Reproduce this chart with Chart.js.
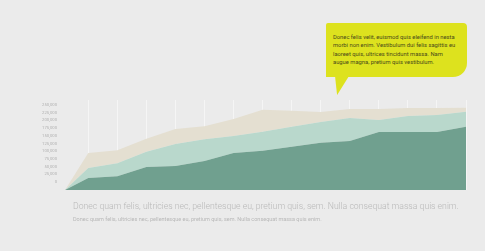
<!DOCTYPE html>
<html>
<head>
<meta charset="utf-8">
<script src="https://cdn.jsdelivr.net/npm/chart.js@4.4.1/dist/chart.umd.min.js"></script>
<style>
  html, body { margin: 0; padding: 0; background: #ebebeb; }
  #wrap { position: relative; width: 485px; height: 251px; overflow: hidden; font-family: Roboto, sans-serif; }
  #chart { position: absolute; left: 0; top: 0; }
  .bubble {
    position: absolute; left: 326px; top: 23px; width: 141px; height: 54px;
    background: #dde21e; border-radius: 2px 4px 14px 0;
    box-sizing: border-box; padding: 10px 0 0 7px;
    font-size: 5.8px; line-height: 8.3px; color: #4a4a1a; white-space: nowrap;
  }
  .tail {
    position: absolute; left: 335px; top: 76px; width: 14px; height: 19px;
    background: #dde21e; clip-path: polygon(0 0, 100% 0, 15% 100%);
  }
  .note1 { position: absolute; left: 73px; top: 201px; font-size: 8.7px; color: #b8b8b8; white-space: nowrap; font-weight: 300; }
  .note2 { position: absolute; left: 73px; top: 216px; font-size: 5.5px; color: #b8b8b8; white-space: nowrap; }
</style>
</head>
<body>
<div id="wrap">
  <canvas id="chart" width="485" height="251"></canvas>
  <div class="bubble">Donec felis velit, euismod quis eleifend in nesta<br>morbi non enim. Vestibulum dui felis sagittis eu<br>laoreet quis, ultrices tincidunt massa. Nam<br>augue magna, pretium quis vestibulum.</div>
  <div class="tail"></div>
  <div class="note1">Donec quam felis, ultricies nec, pellentesque eu, pretium quis, sem. Nulla consequat massa quis enim.</div>
  <div class="note2">Donec quam felis, ultricies nec, pellentesque eu, pretium quis, sem. Nulla consequat massa quis enim.</div>
</div>
<script>
  const periods = [0, 0.8, 1.8, 2.8, 3.8, 4.8, 5.8, 6.8, 7.8, 8.8, 9.8, 10.8, 11.8, 12.8, 13.8];
  const seriesBase = [0, 39000, 45000, 75000, 78000, 94000, 120000, 127000, 140000, 153000, 159000, 188000, 188000, 188000, 205000];
  const seriesMiddle = [0, 32000, 42000, 49000, 71000, 71000, 55000, 62000, 65000, 68000, 75000, 39000, 52000, 55000, 49000];
  const seriesTop = [0, 49000, 42000, 42000, 49000, 42000, 55000, 71000, 52000, 32000, 29000, 36000, 26000, 23000, 13000];
  const yTicks = [0, 25000, 50000, 75000, 100000, 125000, 150000, 175000, 200000, 225000, 250000];

  const toPoints = (values) => values.map((v, i) => ({ x: periods[i], y: v }));

  const areaStyle = (color, fill) => ({
    backgroundColor: color,
    borderWidth: 0,
    pointRadius: 0,
    tension: 0,
    fill: fill
  });

  new Chart(document.getElementById("chart"), {
    type: "line",
    data: {
      datasets: [
        { data: toPoints(seriesBase), ...areaStyle("#70a08f", "origin") },
        { data: toPoints(seriesMiddle), ...areaStyle("#b9d8cc", "-1") },
        { data: toPoints(seriesTop), ...areaStyle("#e4dfd1", "-1") }
      ]
    },
    options: {
      responsive: false,
      animation: false,
      layout: { padding: { left: 0, top: 100, right: 19, bottom: 61 } },
      plugins: { legend: { display: false }, tooltip: { enabled: false } },
      scales: {
        x: {
          type: "linear",
          min: 0,
          max: 13.8,
          z: 1,
          border: { display: false },
          ticks: { display: false },
          grid: { color: "rgba(255,255,255,0.5)", lineWidth: 1, drawTicks: false },
          afterBuildTicks(scale) {
            scale.ticks = periods.slice(1).map((v) => ({ value: v }));
          },
          afterFit(scale) { scale.height = 0; }
        },
        y: {
          stacked: true,
          min: 0,
          max: 292000,
          border: { display: false },
          grid: { display: false, drawTicks: false },
          ticks: {
            color: "#b0b0b0",
            padding: 8,
            labelOffset: -8,
            font: { family: "Roboto", size: 4.2 },
            callback(value) { return value.toLocaleString("en-US"); }
          },
          afterBuildTicks(scale) {
            scale.ticks = yTicks.map((v) => ({ value: v }));
          },
          afterFit(scale) { scale.width = 65; }
        }
      }
    }
  });
</script>
</body>
</html>
